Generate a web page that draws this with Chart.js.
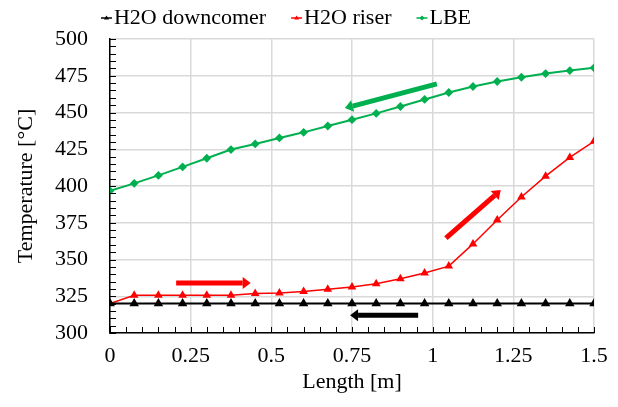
<!DOCTYPE html>
<html>
<head>
<meta charset="utf-8">
<script src="https://cdn.jsdelivr.net/npm/chart.js@4/dist/chart.umd.min.js"></script>
<style>
  html, body { margin: 0; padding: 0; background: #fff; }
  #wrap { width: 618px; height: 407px; }
</style>
</head>
<body>
<div id="wrap"><canvas id="chart" width="618" height="407"></canvas></div>
<script>
// data
const lengths = [0, 0.075, 0.15, 0.225, 0.3, 0.375, 0.45, 0.525, 0.6, 0.675, 0.75,
                 0.825, 0.9, 0.975, 1.05, 1.125, 1.2, 1.275, 1.35, 1.425, 1.5];
const downcomer = [320, 320, 320, 320, 320, 320, 320, 320, 320, 320, 320,
                   320, 320, 320, 320, 320, 320, 320, 320, 320, 320];
const riser = [320, 325.6, 325.6, 325.6, 325.6, 325.6, 326.8, 327.2, 328.3, 329.7, 331.3,
               333.5, 336.9, 340.8, 345.5, 360.6, 376.9, 392.5, 406.7, 419.4, 430.4];
const lbe = [396.7, 401.8, 407.2, 413, 418.9, 424.8, 428.6, 432.7, 436.5, 440.8, 445.1,
             449.4, 454.1, 458.9, 463.6, 467.7, 471.1, 474.0, 476.5, 478.5, 480.4];
const xTicks = [0, 0.25, 0.5, 0.75, 1, 1.25, 1.5];

// flow direction arrows [x0, y0, x1, y1, colour] in data units, head at x1,y1
const arrows = [
  [1.013, 469.5, 0.728, 453, '#00b050'],
  [0.205, 334, 0.436, 334, '#ff0000'],
  [1.041, 364.5, 1.211, 397.2, '#ff0000'],
  [0.955, 312, 0.744, 312, '#000000']
];

const serif = "'Liberation Serif', 'DejaVu Serif', serif";

function pts(ys) {
  return lengths.map((x, i) => ({ x: x, y: ys[i] }));
}

// little inward ticks, arrows, excel-like legend keys
const extras = {
  id: 'extras',
  afterDatasetsDraw(chart) {
    const c = chart.ctx, xs = chart.scales.x, ys = chart.scales.y;
    const a = chart.chartArea;
    c.save();
    c.strokeStyle = '#000';
    c.lineWidth = 1;
    for (let v = 0; v <= 1.5001; v += 0.05) {
      const px = Math.round(xs.getPixelForValue(v)) + 0.5;
      c.beginPath(); c.moveTo(px, a.bottom); c.lineTo(px, a.bottom - 6); c.stroke();
    }
    for (let v = 300; v <= 500; v += 5) {
      const py = Math.round(ys.getPixelForValue(v)) + 0.5;
      c.beginPath(); c.moveTo(a.left, py); c.lineTo(a.left + 6, py); c.stroke();
    }
    arrows.forEach(ar => {
      const x0 = xs.getPixelForValue(ar[0]), y0 = ys.getPixelForValue(ar[1]);
      const x1 = xs.getPixelForValue(ar[2]), y1 = ys.getPixelForValue(ar[3]);
      const ang = Math.atan2(y1 - y0, x1 - x0);
      const hl = 8, hw = 6;
      const bx = x1 - hl * Math.cos(ang), by = y1 - hl * Math.sin(ang);
      c.strokeStyle = ar[4];
      c.fillStyle = ar[4];
      c.lineWidth = 5;
      c.beginPath(); c.moveTo(x0, y0); c.lineTo(bx, by); c.stroke();
      c.beginPath();
      c.moveTo(x1, y1);
      c.lineTo(bx + hw * Math.sin(ang), by - hw * Math.cos(ang));
      c.lineTo(bx - hw * Math.sin(ang), by + hw * Math.cos(ang));
      c.closePath(); c.fill();
    });
    c.restore();
  },
  afterDraw(chart) {
    const lg = chart.legend;
    if (!lg || !lg.legendHitBoxes) return;
    const c = chart.ctx;
    c.save();
    lg.legendHitBoxes.forEach((hb, i) => {
      const ds = chart.data.datasets[i];
      const y = hb.top + hb.height / 2;
      c.strokeStyle = ds.borderColor;
      c.fillStyle = ds.borderColor;
      c.lineWidth = 1.5;
      c.beginPath(); c.moveTo(hb.left - 1, y); c.lineTo(hb.left + 10, y); c.stroke();
      const mx = hb.left + 4.5;
      c.beginPath();
      if (ds.pointStyle === 'triangle') {
        c.moveTo(mx, y - 2.5); c.lineTo(mx + 2.5, y + 1.5); c.lineTo(mx - 2.5, y + 1.5);
      } else {
        c.moveTo(mx, y - 2.5); c.lineTo(mx + 2.5, y); c.lineTo(mx, y + 2.5); c.lineTo(mx - 2.5, y);
      }
      c.closePath(); c.fill();
    });
    c.restore();
  }
};

const ctx = document.getElementById('chart').getContext('2d');
const chart = new Chart(ctx, {
  type: 'line',
  data: {
    datasets: [
      {
        label: 'H2O downcomer',
        data: pts(downcomer),
        borderColor: '#000000',
        backgroundColor: '#000000',
        borderWidth: 2,
        pointStyle: 'triangle',
        pointRadius: 3.5
      },
      {
        label: 'H2O riser',
        data: pts(riser),
        borderColor: '#ff0000',
        backgroundColor: '#ff0000',
        borderWidth: 1.5,
        pointStyle: 'triangle',
        pointRadius: 3.5
      },
      {
        label: 'LBE',
        data: pts(lbe),
        borderColor: '#00b050',
        backgroundColor: '#00b050',
        borderWidth: 2,
        pointStyle: 'rectRot',
        pointRadius: 3
      }
    ]
  },
  options: {
    responsive: false,
    animation: false,
    // negative padding pulls the roomy legend up and left so the plot box lands where the original has it
    layout: { padding: { left: -21, right: 24, top: -19, bottom: 12 } },
    plugins: {
      tooltip: { enabled: false },
      legend: {
        position: 'top',
        labels: {
          font: { family: serif, size: 22 },
          color: '#000',
          boxWidth: 1,
          boxHeight: 2,
          padding: 26,
          generateLabels: ch => {
            const items = Chart.defaults.plugins.legend.labels.generateLabels(ch);
            items.forEach(it => {
              it.fillStyle = 'rgba(0,0,0,0)';
              it.strokeStyle = 'rgba(0,0,0,0)';
              it.lineWidth = 0;
            });
            return items;
          }
        }
      }
    },
    scales: {
      x: {
        type: 'linear',
        min: 0,
        max: 1.5,
        afterBuildTicks: s => { s.ticks = xTicks.map(v => ({ value: v })); },
        afterFit: s => { s.height = 62; },
        ticks: {
          font: { family: serif, size: 22 },
          color: '#000',
          padding: 10,
          maxRotation: 0,
          callback: v => String(v)
        },
        grid: { color: '#d9d9d9', lineWidth: 1.5, drawTicks: false },
        border: { color: '#000', width: 1.5 },
        title: {
          display: true,
          text: 'Length [m]',
          font: { family: serif, size: 22 },
          color: '#000',
          padding: 0
        }
      },
      y: {
        min: 300,
        max: 500,
        afterFit: s => { s.width = 131; },
        ticks: {
          stepSize: 25,
          font: { family: serif, size: 22 },
          color: '#000',
          padding: 22
        },
        grid: { color: '#d9d9d9', lineWidth: 1.5, drawTicks: false },
        border: { color: '#000', width: 1.5 },
        title: {
          display: true,
          text: 'Temperature [°C]',
          font: { family: serif, size: 22 },
          color: '#000',
          padding: { top: 34, bottom: 0 }
        }
      }
    }
  },
  plugins: [extras]
});
</script>
</body>
</html>
